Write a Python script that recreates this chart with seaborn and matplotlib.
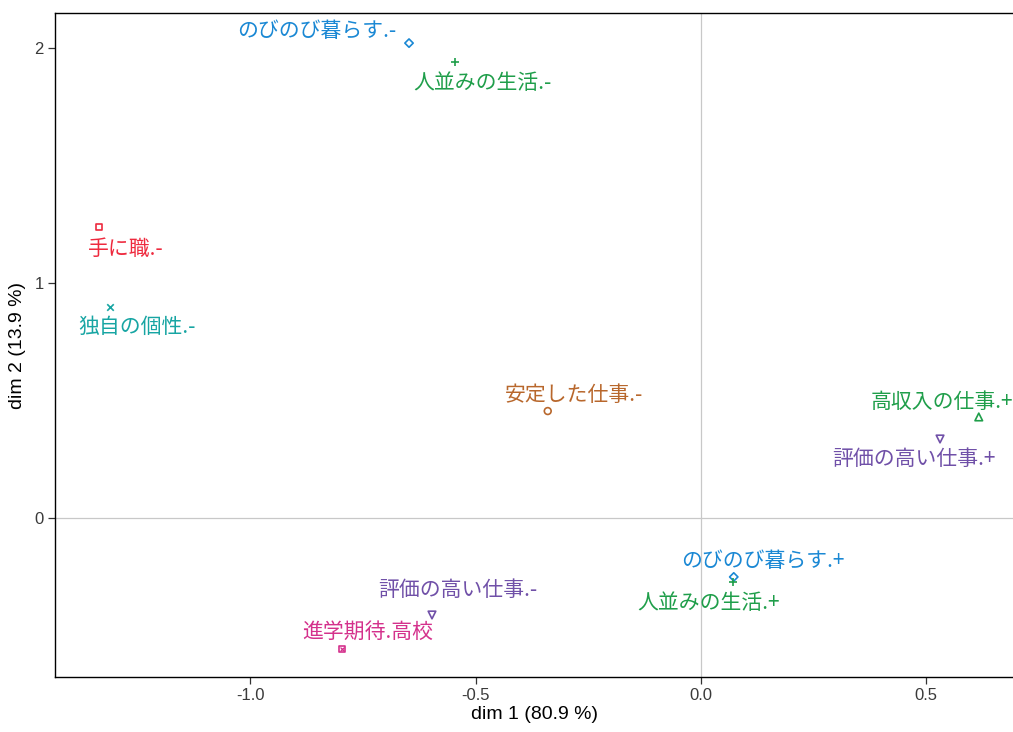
import matplotlib
matplotlib.use("Agg")
import matplotlib.pyplot as plt
import seaborn as sns
import pandas as pd

# Correspondence-analysis category coordinates
labels = [
    "のびのび暮らす.-", "人並みの生活.-", "手に職.-", "独自の個性.-",
    "安定した仕事.-", "高収入の仕事.+", "評価の高い仕事.+",
    "のびのび暮らす.+", "人並みの生活.+", "評価の高い仕事.-", "進学期待.高校",
]
dim1 = [-0.648, -0.546, -1.336, -1.312, -0.340, 0.617, 0.531, 0.073, 0.071, -0.597, -0.797]
dim2 = [2.021, 1.940, 1.238, 0.898, 0.455, 0.430, 0.336, -0.251, -0.272, -0.413, -0.557]
groups = [
    "のびのび暮らす", "人並みの生活", "手に職", "独自の個性",
    "安定した仕事", "高収入の仕事", "評価の高い仕事",
    "のびのび暮らす", "人並みの生活", "評価の高い仕事", "進学期待",
]

palette = {
    "のびのび暮らす": "#1a88d4",
    "人並みの生活": "#1f9e4a",
    "手に職": "#ee2a3e",
    "独自の個性": "#17a5a3",
    "安定した仕事": "#b8672c",
    "高収入の仕事": "#1f9e4a",
    "評価の高い仕事": "#7050a8",
    "進学期待": "#d4318c",
}
# marker per point: (matplotlib marker, size, outlined?)
marker_style = [
    ("D", 18, True), ("+", 40, False), ("s", 22, True), ("x", 22, False),
    ("o", 24, True), ("^", 30, True), ("v", 30, True),
    ("D", 18, True), ("+", 40, False), ("v", 30, True), ("s", 22, True),
]
# label offsets in pixels relative to each point
label_offsets = [
    (-92, 12), (28, -21), (27, -22), (27, -20),
    (26, 16), (-37, 15), (-26, -20),
    (29, 16), (-24, -21), (26, 25), (26, 17),
]

df = pd.DataFrame({"dim1": dim1, "dim2": dim2, "label": labels, "group": groups})

sns.set_theme(style="white")
cjk = ["Noto Sans CJK JP", "DejaVu Sans"]
narrow = ["Liberation Sans", "DejaVu Sans"]

fig = plt.figure(figsize=(10.13, 7.32), dpi=100)
ax = fig.add_axes([0.0543, 0.0751, 0.9457, 0.9071])

ax.axhline(0, color="#c8c8c8", lw=0.9, zorder=0)
ax.axvline(0, color="#c8c8c8", lw=0.9, zorder=0)

for i, row in df.iterrows():
    col = palette[row["group"]]
    m, s, outline = marker_style[i]
    sub = df.iloc[[i]]
    if outline:
        sns.scatterplot(data=sub, x="dim1", y="dim2", marker=m, s=s,
                        facecolor="none", edgecolor=col, linewidth=1.2,
                        ax=ax, legend=False, zorder=3)
    else:
        sns.scatterplot(data=sub, x="dim1", y="dim2", marker=m, s=s,
                        color=col, linewidth=1.2, ax=ax, legend=False, zorder=3)
    if row["group"] == "進学期待":
        sns.scatterplot(data=sub, x="dim1", y="dim2", marker="x", s=8,
                        color=col, linewidth=0.9, ax=ax, legend=False, zorder=3)
    dx, dy = label_offsets[i]
    ax.annotate(row["label"], (row["dim1"], row["dim2"]), xytext=(dx, dy),
                textcoords="offset pixels", ha="center", va="center",
                fontsize=15, color=col, family=cjk, zorder=4)

ax.set_xlim(-1.434, 0.693)
ax.set_ylim(-0.677, 2.149)
ax.set_xticks([-1.0, -0.5, 0.0, 0.5])
ax.set_xticklabels(["-1.0", "-0.5", "0.0", "0.5"])
ax.set_yticks([0, 1, 2])
ax.set_yticklabels(["0", "1", "2"])

ax.tick_params(axis="both", which="major", direction="out", length=5, width=0.9,
               color="#333333", labelsize=12, labelcolor="#3a3a3a", pad=3,
               bottom=True, left=True)
for lab in ax.get_xticklabels() + ax.get_yticklabels():
    lab.set_family(narrow)

ax.set_xlabel("dim 1 (80.9 %)", fontsize=14, family=narrow, color="black", labelpad=2)
ax.set_ylabel("dim 2 (13.9 %)", fontsize=14, family=narrow, color="black", labelpad=6)

for side in ["left", "bottom", "top"]:
    ax.spines[side].set_visible(True)
    ax.spines[side].set_color("black")
    ax.spines[side].set_linewidth(1.0)
ax.spines["right"].set_visible(False)
ax.grid(False)

fig.savefig("out.png", dpi=100)
